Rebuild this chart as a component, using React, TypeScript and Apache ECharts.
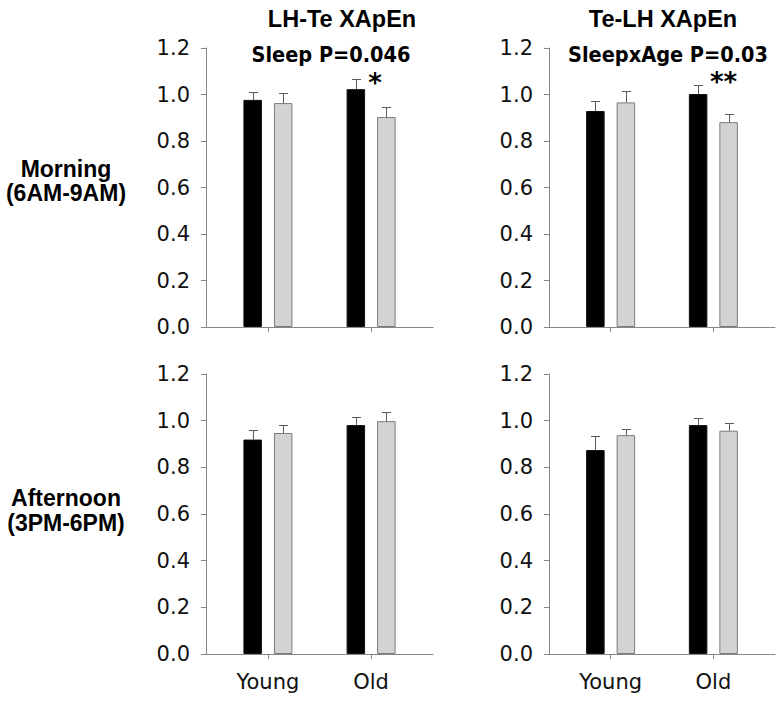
import React, { useEffect, useRef } from "react";
import * as echarts from "echarts";

// ---- data ----
const categories = ["Young", "Old"];
const columnTitles = ["LH-Te XApEn", "Te-LH XApEn"];
const statLabels = ["Sleep P=0.046", "SleepxAge P=0.03"];
const rowLabels = [
  ["Morning", "(6AM-9AM)"],
  ["Afternoon", "(3PM-6PM)"],
];
const sigMarks = ["*", "**"];
const seriesNames = ["Black", "Gray"];

const yMin = 0;
const yMax = 1.2;
const yInterval = 0.2;

// Morning, LH-Te
const amLhTeBlack = [0.977, 1.023];
const amLhTeBlackErr = [0.033, 0.043];
const amLhTeGray = [0.963, 0.903];
const amLhTeGrayErr = [0.043, 0.043];
// Morning, Te-LH
const amTeLhBlack = [0.929, 1.002];
const amTeLhBlackErr = [0.042, 0.04];
const amTeLhGray = [0.966, 0.881];
const amTeLhGrayErr = [0.05, 0.037];
// Afternoon, LH-Te
const pmLhTeBlack = [0.919, 0.981];
const pmLhTeBlackErr = [0.04, 0.033];
const pmLhTeGray = [0.947, 0.998];
const pmLhTeGrayErr = [0.033, 0.039];
// Afternoon, Te-LH
const pmTeLhBlack = [0.874, 0.981];
const pmTeLhBlackErr = [0.059, 0.03];
const pmTeLhGray = [0.938, 0.957];
const pmTeLhGrayErr = [0.026, 0.033];

const panels = [
  { black: amLhTeBlack, blackErr: amLhTeBlackErr, gray: amLhTeGray, grayErr: amLhTeGrayErr },
  { black: amTeLhBlack, blackErr: amTeLhBlackErr, gray: amTeLhGray, grayErr: amTeLhGrayErr },
  { black: pmLhTeBlack, blackErr: pmLhTeBlackErr, gray: pmLhTeGray, grayErr: pmLhTeGrayErr },
  { black: pmTeLhBlack, blackErr: pmTeLhBlackErr, gray: pmTeLhGray, grayErr: pmTeLhGrayErr },
];

// ---- layout / style ----
const grids = [
  { left: 206, top: 48, width: 227, height: 279 },
  { left: 549, top: 48, width: 226, height: 279 },
  { left: 206, top: 374, width: 227, height: 280 },
  { left: 549, top: 374, width: 226, height: 280 },
];
const AXIS_COLOR = "#878787";
const ERR_COLOR = "#5a5a5a";
const BAR_W = 18.5;
const BAR_GAP_PX = 12;
const HALF_STEP = (BAR_W + BAR_GAP_PX) / 2;
const LABEL_FONT = "DejaVu Sans";

export default function App() {
  const ref = useRef<HTMLDivElement>(null);

  useEffect(() => {
    if (!ref.current) return;
    const chart = echarts.init(ref.current, undefined, { renderer: "svg" });

    const xAxis: any[] = [];
    const yAxis: any[] = [];
    const series: any[] = [];

    panels.forEach((p, i) => {
      const isBottom = i >= 2;
      xAxis.push({
        type: "value",
        gridIndex: i,
        min: -0.6,
        max: 1.6,
        splitLine: { show: false },
        axisLine: { show: true, onZero: false, lineStyle: { color: AXIS_COLOR, width: 1 } },
        axisTick: {
          show: true,
          customValues: categories.map((_, k) => k),
          length: 5,
          inside: false,
          lineStyle: { color: AXIS_COLOR },
        },
        axisLabel: {
          show: isBottom,
          customValues: categories.map((_, k) => k),
          formatter: (v: number) => categories[Math.round(v)] ?? "",
          fontFamily: LABEL_FONT,
          fontSize: 21,
          color: "#111",
          margin: 17,
        },
      });
      yAxis.push({
        type: "value",
        gridIndex: i,
        min: yMin,
        max: yMax,
        interval: yInterval,
        splitLine: { show: false },
        axisLine: { show: true, onZero: false, lineStyle: { color: AXIS_COLOR, width: 1 } },
        axisTick: { show: true, length: 5, lineStyle: { color: AXIS_COLOR } },
        axisLabel: {
          formatter: (v: number) => v.toFixed(1),
          fontFamily: LABEL_FONT,
          fontSize: 21,
          color: "#111",
          margin: 16,
        },
      });

      const groups = [
        { name: seriesNames[0], vals: p.black, errs: p.blackErr, color: "#000000", border: "#111111", off: -HALF_STEP },
        { name: seriesNames[1], vals: p.gray, errs: p.grayErr, color: "#d3d3d3", border: "#7a7a7a", off: HALF_STEP },
      ];
      groups.forEach((g) => {
        series.push({
          type: "bar",
          name: g.name,
          xAxisIndex: i,
          yAxisIndex: i,
          barWidth: BAR_W,
          barGap: (BAR_GAP_PX / BAR_W) * 100 + "%",
          data: g.vals.map((v, k) => [k, v]),
          itemStyle: { color: g.color, borderColor: g.border, borderWidth: 1 },
          z: 2,
        });
        series.push({
          type: "custom",
          name: g.name + " error",
          xAxisIndex: i,
          yAxisIndex: i,
          data: g.vals.map((v, k) => [k, v, g.errs[k]]),
          z: 3,
          renderItem: (_params: any, api: any) => {
            const x = api.value(0);
            const v = api.value(1);
            const e = api.value(2);
            const base = api.coord([x, v]);
            const top = api.coord([x, v + e]);
            const cx = Math.round(base[0] + g.off) + 0.5;
            const ty = Math.round(top[1]) + 0.5;
            return {
              type: "group",
              children: [
                {
                  type: "line",
                  shape: { x1: cx, y1: base[1], x2: cx, y2: ty },
                  style: { stroke: ERR_COLOR, lineWidth: 1 },
                },
                {
                  type: "line",
                  shape: { x1: cx - 4.5, y1: ty, x2: cx + 4.5, y2: ty },
                  style: { stroke: ERR_COLOR, lineWidth: 1 },
                },
              ],
            };
          },
        });
      });
    });

    const graphic: any[] = [];
    // column headers
    const colCenters = [342, 663];
    columnTitles.forEach((t, c) => {
      graphic.push({
        type: "text",
        x: colCenters[c],
        y: 19,
        style: {
          text: t,
          fontFamily: "Liberation Sans",
          fontWeight: "bold",
          fontSize: 23.5,
          fill: "#000",
          textAlign: "center",
          textVerticalAlign: "middle",
        },
      });
    });
    const statCenters = [331, 668];
    statLabels.forEach((t, c) => {
      graphic.push({
        type: "text",
        x: statCenters[c],
        y: 54,
        style: {
          text: t,
          fontFamily: "'DejaVu Sans Condensed', 'DejaVu Sans'",
          fontWeight: "bold",
          fontSize: 21.5,
          fill: "#000",
          textAlign: "center",
          textVerticalAlign: "middle",
        },
      });
    });
    // significance marks
    const sigPos = [
      [375, 83],
      [723.5, 82],
    ];
    sigMarks.forEach((t, c) => {
      graphic.push({
        type: "text",
        x: sigPos[c][0],
        y: sigPos[c][1],
        style: {
          text: t,
          fontFamily: "'DejaVu Sans'",
          fontWeight: "bold",
          fontSize: 26,
          fill: "#000",
          textAlign: "center",
          textVerticalAlign: "middle",
        },
      });
    });
    // row labels
    const rowY = [
      [168.5, 193],
      [497.5, 522.5],
    ];
    rowLabels.forEach((lines, r) => {
      lines.forEach((t, l) => {
        graphic.push({
          type: "text",
          x: 66,
          y: rowY[r][l],
          style: {
            text: t,
            fontFamily: "Liberation Sans",
            fontWeight: "bold",
            fontSize: 23,
            fill: "#000",
            textAlign: "center",
            textVerticalAlign: "middle",
          },
        });
      });
    });

    chart.setOption({
      animation: false,
      backgroundColor: "#ffffff",
      grid: grids.map((g) => ({ ...g, containLabel: false })),
      xAxis,
      yAxis,
      series,
      graphic,
    });

    return () => chart.dispose();
  }, []);

  return (
    <div
      ref={ref}
      style={{ position: "absolute", left: 0, top: 0, width: 780, height: 701 }}
    />
  );
}
